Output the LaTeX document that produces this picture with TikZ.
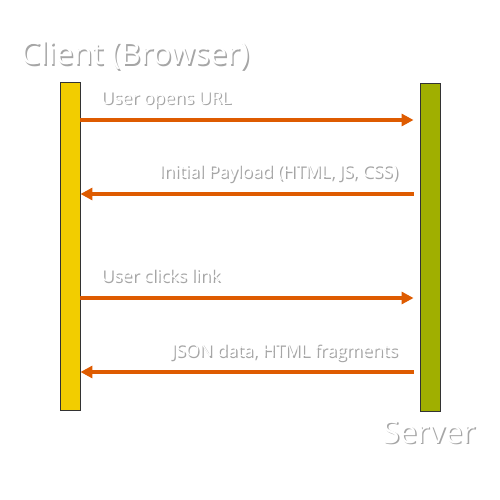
\documentclass[tikz,border=0pt]{standalone}
\usepackage{fontspec}
\setmainfont{Open Sans}
\usetikzlibrary{arrows.meta}
\definecolor{cyel}{HTML}{F2CD00}
\definecolor{cgrn}{HTML}{A0AF00}
\definecolor{carr}{HTML}{DE5B00}
\newcommand{\shtext}[1]{\makebox[0pt][l]{\raisebox{-1.6pt}{\hspace{1.4pt}\textcolor{black!35}{#1}}}\textcolor{white}{#1}}
\tikzset{
  lifebar/.style={draw=black!80, line width=0.9pt, minimum width=20pt, minimum height=328pt, inner sep=0pt},
  msg/.style={draw=carr, line width=3.6pt, -{Triangle[length=12pt,width=12pt]}},
  lbl/.style={inner sep=0pt, font=\fontsize{17.5}{20}\selectfont},
  title/.style={inner sep=0pt, font=\fontsize{31}{35}\selectfont}
}
\begin{document}
\begin{tikzpicture}[x=1pt,y=-1pt]
\useasboundingbox (0,0) rectangle (500,500);
\fill[white] (0,0) rectangle (500,500);
\node[lifebar, fill=cyel] (client) at (70,246) {};
\node[lifebar, fill=cgrn] (server) at (430,247) {};
\node[title] (ctitle) at (135,56) {\shtext{Client (Browser)}};
\node[title] (stitle) at (429,433) {\shtext{Server}};
\coordinate (c1) at (client.east |- 0,120);
\coordinate (s1) at ([xshift=-6pt]server.west |- 0,120);
\coordinate (c2) at (client.east |- 0,194);
\coordinate (s2) at ([xshift=-6pt]server.west |- 0,194);
\coordinate (c3) at (client.east |- 0,298);
\coordinate (s3) at ([xshift=-6pt]server.west |- 0,298);
\coordinate (c4) at (client.east |- 0,372);
\coordinate (s4) at ([xshift=-6pt]server.west |- 0,372);
\draw[msg] (c1) -- (s1);
\draw[msg] (s2) -- (c2);
\draw[msg] (c3) -- (s3);
\draw[msg] (s4) -- (c4);
\node[lbl, anchor=west] (l1) at (101,101) {\shtext{User opens URL}};
\node[lbl, anchor=east] (l2) at (398,174) {\shtext{Initial Payload (HTML, JS, CSS)}};
\node[lbl, anchor=west] (l3) at (101,276) {\shtext{User clicks link}};
\node[lbl, anchor=east] (l4) at (398,353) {\shtext{JSON data, HTML fragments}};
\end{tikzpicture}
\end{document}
